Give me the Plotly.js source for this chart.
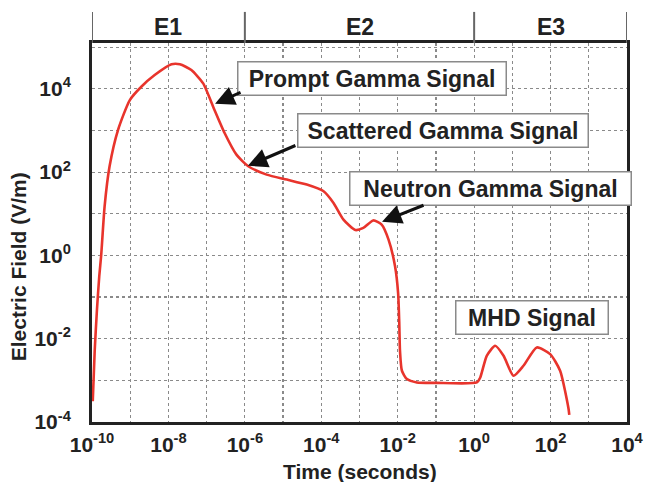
<!DOCTYPE html>
<html>
<head>
<meta charset="utf-8">
<script src="https://cdn.plot.ly/plotly-3.0.1.min.js"></script>
<style>html,body{margin:0;padding:0;background:#fff;}#chart{width:649px;height:482px;}</style>
</head>
<body>
<div id="chart"></div>
<script>
// Curve samples, as base-10 exponents
const timeExp  = [-9.98, -9.93, -9.87, -9.81, -9.76, -9.67, -9.54, -9.32, -9.01, -8.71, -8.36, -7.92, -7.70, -7.40, -7.09, -6.83, -6.53, -6.22, -5.91, -5.43, -4.90, -4.38, -3.94, -3.68, -3.42, -3.11, -2.90, -2.64, -2.42, -2.24, -2.07, -1.99, -1.96, -1.94, -1.89, -1.76, -1.50, -1.00, 0.07, 0.16, 0.33, 0.55, 0.77, 1.03, 1.29, 1.64, 1.99, 2.25, 2.47, 2.49];
const fieldExp = [-3.50, -2.30, -1.30, -0.50, 0.00, 1.18, 2.14, 3.01, 3.73, 4.05, 4.33, 4.59, 4.59, 4.45, 4.13, 3.57, 2.94, 2.42, 2.14, 1.94, 1.82, 1.70, 1.54, 1.26, 0.86, 0.61, 0.66, 0.84, 0.74, 0.38, -0.26, -0.90, -1.60, -2.30, -2.77, -2.97, -3.05, -3.06, -3.05, -2.93, -2.41, -2.17, -2.41, -2.89, -2.65, -2.21, -2.37, -2.77, -3.68, -3.83];

const xTickVals = [1e-10,1e-9,1e-8,1e-7,1e-6,1e-5,1e-4,1e-3,1e-2,1e-1,1e0,1e1,1e2,1e3,1e4];
const xTickText = ['10<sup>-10</sup>','','10<sup>-8</sup>','','10<sup>-6</sup>','','10<sup>-4</sup>','','10<sup>-2</sup>','','10<sup>0</sup>','','10<sup>2</sup>','','10<sup>4</sup>'];
const yTickVals = [1e-4,1e-3,1e-2,1e-1,1e0,1e1,1e2,1e3,1e4,1e5];
const yTickText = ['10<sup>-4</sup>','','10<sup>-2</sup>','','10<sup>0</sup>','','10<sup>2</sup>','','10<sup>4</sup>',''];

// Phase bands (time bounds, seconds) and labels
const bandBounds = [1e-10, 1e-6, 1e0, 1e4];
const bandLabels = ['E1', 'E2', 'E3'];
const bandLabelPos = [-8, -3, 2];

// Signal annotations: label, arrow tip (exponents) or null
const signalLabels = ['Prompt Gamma Signal', 'Scattered Gamma Signal', 'Neutron Gamma Signal', 'MHD Signal'];
const signalTipX = [-6.78, -5.92, -2.41, null];
const signalTipY = [3.64, 2.15, 0.81, null];

const xTitle = 'Time (seconds)';
const yTitle = 'Electric Field (V/m)';

const xs = timeExp.map(v => Math.pow(10, v));
const ys = fieldExp.map(v => Math.pow(10, v));

const FONT = 'Liberation Sans, Arial, sans-serif';

const trace = {
  x: xs, y: ys, type: 'scatter', mode: 'lines',
  line: {color: '#e8342c', width: 2.6, shape: 'spline', smoothing: 0.6},
  hoverinfo: 'skip'
};

const shapes = [];
bandBounds.forEach(b => {
  shapes.push({type: 'line', xref: 'x', yref: 'paper', x0: b, x1: b, y0: 1.0, y1: 1.082,
    line: {color: '#666', width: 2}});
});

const annotations = [];
bandLabels.forEach((t, i) => {
  annotations.push({xref: 'x', yref: 'paper', x: bandLabelPos[i], y: 1.043, text: '<b>' + t + '</b>',
    showarrow: false, font: {family: FONT, size: 23, color: '#222'}, xanchor: 'center', yanchor: 'middle'});
});

const boxPos = [[0.524, 0.907, 263], [0.656, 0.768, 285], [0.744, 0.617, 276], [0.822, 0.277, 147]];
signalLabels.forEach((t, i) => {
  annotations.push({xref: 'paper', yref: 'paper', x: boxPos[i][0], y: boxPos[i][1], text: '<b>' + t + '</b>',
    showarrow: false, font: {family: FONT, size: 23, color: '#222'}, xanchor: 'center', yanchor: 'middle',
    bgcolor: '#fff', bordercolor: '#8a8a8a', borderwidth: 1.5, borderpad: 2, width: boxPos[i][2], height: 28});
});
const arrowOff = [[27, -12], [49, -21], [43, -17]];
signalTipX.forEach((tx, i) => {
  if (tx === null) return;
  annotations.push({xref: 'x', yref: 'y', x: tx, y: signalTipY[i], text: '', showarrow: true,
    ax: arrowOff[i][0], ay: arrowOff[i][1], arrowhead: 2, arrowsize: 1.3, arrowwidth: 3, arrowcolor: '#111', standoff: 0});
});

// axis titles placed as annotations to match the reference positions
annotations.push({xref: 'paper', yref: 'paper', x: -0.137, y: 0.41, text: '<b>' + yTitle + '</b>',
  textangle: -90, showarrow: false, font: {family: FONT, size: 21, color: '#222'}, xanchor: 'center', yanchor: 'middle'});
annotations.push({xref: 'paper', yref: 'paper', x: 0.5, y: -0.13, text: '<b>' + xTitle + '</b>',
  showarrow: false, font: {family: FONT, size: 21, color: '#222'}, xanchor: 'center', yanchor: 'middle'});

const layout = {
  width: 649, height: 482,
  margin: {l: 92, r: 22, t: 43, b: 60},
  paper_bgcolor: '#fff', plot_bgcolor: '#fff',
  showlegend: false,
  xaxis: {
    type: 'log', range: [-10, 4], tickvals: xTickVals, ticktext: xTickText,
    showgrid: true, gridcolor: '#8a8a8a', griddash: 'dot', gridwidth: 1.2,
    showline: true, mirror: true, linecolor: '#222', linewidth: 3,
    ticks: '', ticklabelstandoff: 2,
    tickfont: {family: FONT, size: 21, color: '#222', weight: 'bold'},
    zeroline: false
  },
  yaxis: {
    type: 'log', range: [-4, 5.1], tickvals: yTickVals, ticktext: yTickText,
    showgrid: true, gridcolor: '#8a8a8a', griddash: 'dot', gridwidth: 1.2,
    showline: true, mirror: true, linecolor: '#222', linewidth: 3,
    ticks: '', ticklabelstandoff: 14,
    tickfont: {family: FONT, size: 21, color: '#222', weight: 'bold'},
    zeroline: false
  },
  shapes: shapes,
  annotations: annotations
};

Plotly.newPlot('chart', [trace], layout, {displayModeBar: false, staticPlot: true});
</script>
</body>
</html>
